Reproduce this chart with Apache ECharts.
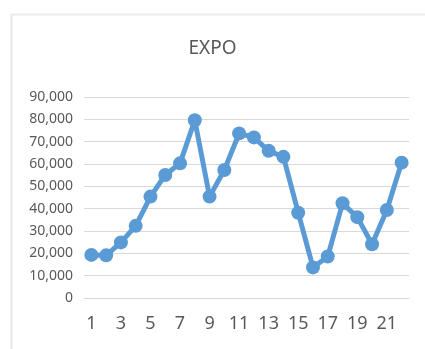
<!DOCTYPE html>
<html>
<head>
<meta charset="utf-8">
<script src="https://cdn.jsdelivr.net/npm/echarts@6/dist/echarts.min.js"></script>
<style>
  html, body { margin: 0; padding: 0; background: #fff; }
  #chart { width: 425px; height: 349px; }
</style>
</head>
<body>
<div id="chart"></div>
<script>
const categories = ["1", "2", "3", "4", "5", "6", "7", "8", "9", "10", "11",
  "12", "13", "14", "15", "16", "17", "18", "19", "20", "21", "22"];
const expoValues = [19300, 19100, 24900, 32300, 45400, 55100, 60300, 79600, 45400, 57300, 73700,
  71900, 65900, 63200, 38200, 13700, 18600, 42400, 36200, 24100, 39400, 60600];
const yTicks = { min: 0, max: 90000, interval: 10000 };

const chart = echarts.init(document.getElementById("chart"));

const option = {
  animation: false,
  textStyle: { fontFamily: "Noto Sans" },
  title: {
    text: "EXPO",
    left: "center",
    top: 34,
    textStyle: { fontSize: 19, fontWeight: "normal", color: "#595959", fontFamily: "Noto Sans" },
  },
  graphic: [
    {
      type: "line",
      shape: { x1: 11.5, y1: 14, x2: 11.5, y2: 349 },
      style: { stroke: "#e6e6e6", lineWidth: 2 },
    },
    {
      type: "line",
      shape: { x1: 11, y1: 14.5, x2: 425, y2: 14.5 },
      style: { stroke: "#ececec", lineWidth: 2 },
    },
  ],
  grid: { left: 84, right: 16, top: 97, bottom: 51 },
  xAxis: {
    type: "category",
    data: categories,
    boundaryGap: true,
    axisLine: { show: true, lineStyle: { color: "#d9d9d9", width: 1 } },
    axisTick: { show: false },
    axisLabel: {
      interval: 1,
      margin: 17,
      fontSize: 18,
      color: "#595959",
    },
  },
  yAxis: {
    type: "value",
    min: yTicks.min,
    max: yTicks.max,
    interval: yTicks.interval,
    axisLine: { show: false },
    axisTick: { show: false },
    splitLine: { lineStyle: { color: "#d9d9d9", width: 1 } },
    axisLabel: {
      margin: 11,
      fontSize: 14,
      color: "#595959",
      formatter: (v) => v.toLocaleString("en-US"),
    },
  },
  series: [
    {
      name: "EXPO",
      type: "line",
      data: expoValues,
      symbol: "circle",
      symbolSize: 14,
      showAllSymbol: true,
      lineStyle: { color: "#5b9bd5", width: 5 },
      itemStyle: { color: "#5b9bd5" },
    },
  ],
};

chart.setOption(option);
</script>
</body>
</html>
